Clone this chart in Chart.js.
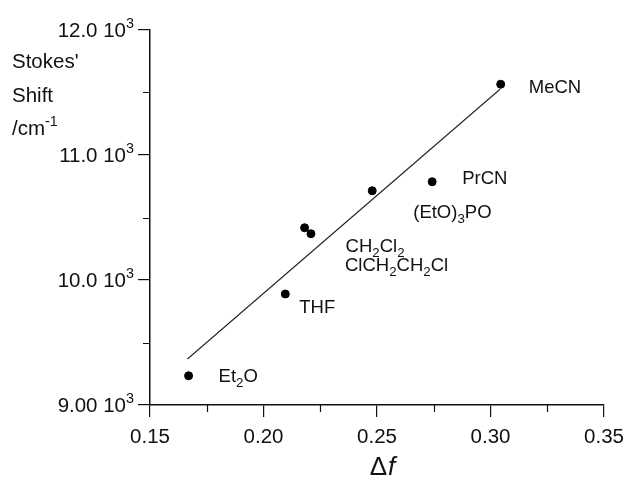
<!DOCTYPE html>
<html><head><meta charset="utf-8">
<script src="https://cdn.jsdelivr.net/npm/chart.js@4/dist/chart.umd.min.js"></script>
<style>html,body{margin:0;padding:0;background:#fff}#wrap{width:626px;height:479px;position:relative}</style>
</head><body><div id="wrap"><canvas id="c"></canvas></div>
<script>
// ---- data ----
const solventLabels = ["Et_2O", "THF", "CH_2Cl_2", "ClCH_2CH_2Cl", "(EtO)_3PO", "PrCN", "MeCN"];
const deltaF      = [0.167, 0.2096, 0.2181, 0.2209, 0.2479, 0.2743, 0.3045];
const stokesShift = [9234, 9888, 10418, 10370, 10714, 10786, 11566];
const fitDeltaF   = [0.1665, 0.3042];
const fitShift    = [9368, 11526];
const xMajorTicks = [0.15, 0.20, 0.25, 0.30, 0.35];
const xMinorTicks = [0.175, 0.225, 0.275, 0.325];
const yMajorTicks = [9000, 10000, 11000, 12000];
const yMinorTicks = [9500, 10500, 11500];
const yTitleLines = ["Stokes'", "Shift", "/cm^-1"];
const xTitle = "Δf";

// ---- style / layout ----
const FONT = "'Liberation Sans', Arial, Helvetica, sans-serif";
const labelOffsets = [[30,0],[14,12],[41,18],[34,31],[41,21],[30,-4],[28,2]];

function parseRich(text) {
  const segs = [];
  let i = 0, buf = '';
  while (i < text.length) {
    const ch = text[i];
    if (ch === '_') { if (buf) segs.push({t:buf, m:0}); buf=''; segs.push({t:text[i+1], m:-1}); i += 2; continue; }
    if (ch === '^') { if (buf) segs.push({t:buf, m:0}); buf=''; segs.push({t:text.slice(i+1), m:1}); i = text.length; continue; }
    buf += ch; i++;
  }
  if (buf) segs.push({t:buf, m:0});
  return segs;
}
function segFont(s, size) {
  if (s.m === -1) return {fs: size * 0.72, dy: size * 0.28};
  if (s.m === 1) return {fs: size * 0.7, dy: -size * 0.42};
  return {fs: size, dy: 0};
}
function richWidth(ctx, text, size) {
  let w = 0;
  for (const s of parseRich(text)) { const f = segFont(s, size); ctx.font = f.fs + 'px ' + FONT; w += ctx.measureText(s.t).width; }
  return w;
}
function drawRich(ctx, text, x, baselineY, size, align) {
  let cx = align === 'right' ? x - richWidth(ctx, text, size) : x;
  ctx.textAlign = 'left';
  ctx.textBaseline = 'alphabetic';
  for (const s of parseRich(text)) {
    const f = segFont(s, size);
    ctx.font = f.fs + 'px ' + FONT;
    ctx.fillText(s.t, cx, baselineY + f.dy);
    cx += ctx.measureText(s.t).width;
  }
}
function yTickText(v) {
  return (v >= 10000 ? (v/1000).toFixed(1) : (v/1000).toFixed(2)) + ' 10^3';
}

const extrasPlugin = {
  id: 'extras',
  afterDraw(chart) {
    const ctx = chart.ctx;
    const xs = chart.scales.x, ys = chart.scales.y;
    const ca = chart.chartArea;
    ctx.save();
    // minor ticks
    ctx.strokeStyle = '#111'; ctx.lineWidth = 1.2;
    ctx.beginPath();
    for (const v of xMinorTicks) { const px = Math.round(xs.getPixelForValue(v)) + 0.5; ctx.moveTo(px, ca.bottom); ctx.lineTo(px, ca.bottom + 7); }
    for (const v of yMinorTicks) { const py = Math.round(ys.getPixelForValue(v)) + 0.5; ctx.moveTo(ca.left, py); ctx.lineTo(ca.left - 7, py); }
    ctx.stroke();
    ctx.fillStyle = '#111';
    // y tick labels (with superscript exponent)
    ys.ticks.forEach(t => {
      drawRich(ctx, yTickText(t.value), ca.left - 16, ys.getPixelForValue(t.value) + 7, 20.5, 'right');
    });
    // point labels
    const meta = chart.getDatasetMeta(1);
    solventLabels.forEach((lab, k) => {
      const el = meta.data[k];
      const [dx, dy] = labelOffsets[k];
      drawRich(ctx, lab, el.x + dx, el.y + dy + 6.5, 18.5);
    });
    // y title
    yTitleLines.forEach((t, k) => drawRich(ctx, t, 12, 68 + k * 33.5, 20.5));
    // x title
    const cxm = (ca.left + ca.right) / 2 + 5;
    ctx.font = '26px ' + FONT;
    const w1 = ctx.measureText(xTitle[0]).width;
    ctx.font = 'italic 26px ' + FONT;
    const w2 = ctx.measureText(xTitle[1]).width;
    const x0 = cxm - (w1 + w2) / 2;
    ctx.textAlign = 'left'; ctx.textBaseline = 'alphabetic';
    ctx.font = '26px ' + FONT;
    ctx.fillText(xTitle[0], x0, 475);
    ctx.font = 'italic 26px ' + FONT;
    ctx.fillText(xTitle[1], x0 + w1 + 1, 475);
    ctx.restore();
  }
};

new Chart(document.getElementById('c'), {
  type: 'scatter',
  data: {
    datasets: [
      { type: 'line', data: fitDeltaF.map((x, i) => ({x, y: fitShift[i]})),
        borderColor: '#222', borderWidth: 1.1, pointRadius: 0, fill: false, order: 2 },
      { data: deltaF.map((x, i) => ({x, y: stokesShift[i]})),
        backgroundColor: '#000', borderColor: '#000', pointRadius: 4, pointHoverRadius: 4, order: 1 }
    ]
  },
  options: {
    responsive: true, maintainAspectRatio: false, animation: false,
    devicePixelRatio: 1,
    layout: { padding: { left: 10, top: 30, right: 22, bottom: 0 } },
    plugins: { legend: { display: false }, tooltip: { enabled: false } },
    scales: {
      x: {
        type: 'linear', min: 0.15, max: 0.35,
        afterBuildTicks: s => { s.ticks = xMajorTicks.map(v => ({value: v})); },
        afterFit: s => { s.height = 74; s.paddingRight = 0; s.paddingLeft = 0; },
        ticks: { color: '#111', font: { family: FONT, size: 20.5 }, padding: 8,
                 callback: v => v.toFixed(2) },
        grid: { drawOnChartArea: false, drawTicks: true, tickLength: 12, color: '#111', lineWidth: 1.2 },
        border: { display: true, color: '#111', width: 1.5 }
      },
      y: {
        type: 'linear', min: 9000, max: 12000,
        afterBuildTicks: s => { s.ticks = yMajorTicks.map(v => ({value: v})); },
        afterFit: s => { s.width = 140; s.paddingTop = 0; s.paddingBottom = 0; },
        ticks: { display: false },
        grid: { drawOnChartArea: false, drawTicks: true, tickLength: 12, color: '#111', lineWidth: 1.2 },
        border: { display: true, color: '#111', width: 1.5 }
      }
    }
  },
  plugins: [extrasPlugin]
});
</script>
</body></html>
